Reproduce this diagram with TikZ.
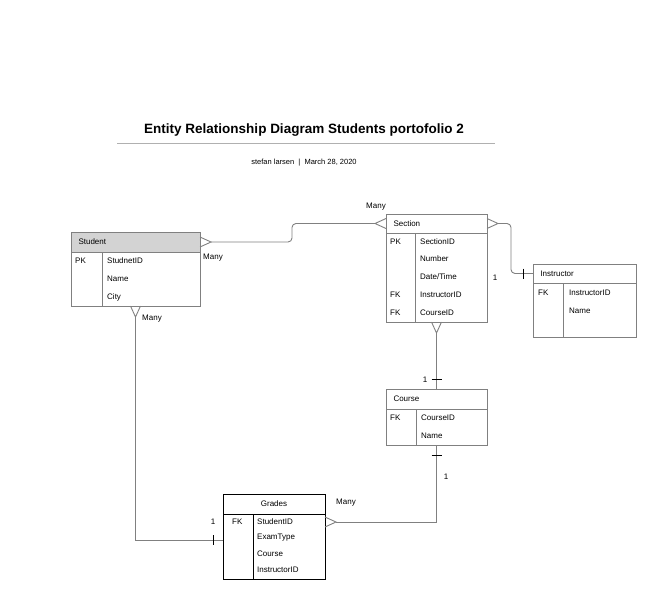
\documentclass[tikz,border=0pt]{standalone}
\usepackage{fontspec}
\setmainfont{Liberation Sans}
\usetikzlibrary{calc,positioning}
\definecolor{linegray}{HTML}{808080}
\definecolor{headgray}{HTML}{D3D3D3}
\definecolor{rulegray}{HTML}{B0B0B0}
\tikzset{%
  font=\fontsize{8}{10}\selectfont,
  tbl/.style={draw=linegray,line width=0.8pt,rectangle,inner sep=0pt,outer sep=0pt,anchor=north west},
  hdr/.style={tbl,inner xsep=7.5pt,align=left},
  field/.style={anchor=west,inner sep=0pt},
  link/.style={draw=linegray,line width=0.9pt},
  foot/.style={draw=linegray,line width=0.9pt},
  tick/.style={draw=black,line width=0.8pt},
  lbl/.style={inner sep=1pt}
}
\begin{document}
\begin{tikzpicture}[x=1pt,y=-1pt]
	\useasboundingbox (0,0) rectangle (656,600);
	% title
	\node[font=\bfseries\fontsize{13.5}{16}\selectfont] (title) at (304,130) {Entity Relationship Diagram Students portofolio 2};
	\draw[rulegray,line width=0.8pt] (117,143) -- (495,143);
	\node[font=\fontsize{7.5}{9}\selectfont] (byline) at (304,163) {stefan larsen\ \ |\ \ March 28, 2020};
	
	% Student
	\node[hdr,fill=headgray,minimum height=20,text width=114pt] (student) at (71,232) {Student};
	\node[tbl,minimum width=129,minimum height=54,below=0pt of student] (studentbody) {};
	\draw[tbl] ([xshift=31pt]studentbody.north west) -- ([xshift=31pt]studentbody.south west);
	\node[field] (spk) at (75,261) {PK};
	\node[field] (sid) at (107,261) {StudnetID};
	\node[field] (sname) at (107,279) {Name};
	\node[field] (scity) at (107,297) {City};
	
	% Section
	\node[hdr,minimum height=19,text width=86pt] (section) at (386,214) {Section};
	\node[tbl,minimum width=101,minimum height=89,below=0pt of section] (sectionbody) {};
	\draw[tbl] ([xshift=29pt]sectionbody.north west) -- ([xshift=29pt]sectionbody.south west);
	\node[field] (xpk) at (390,242) {PK};
	\node[field] (xid) at (420,242) {SectionID};
	\node[field] (xnum) at (420,259) {Number};
	\node[field] (xdate) at (420,277) {Date/Time};
	\node[field] (xfk1) at (390,295) {FK};
	\node[field] (xins) at (420,295) {InstructorID};
	\node[field] (xfk2) at (390,313) {FK};
	\node[field] (xcrs) at (420,313) {CourseID};
	
	% Instructor
	\node[hdr,minimum height=19,text width=88pt] (instructor) at (533,264) {Instructor};
	\node[tbl,minimum width=103,minimum height=54,below=0pt of instructor] (instructorbody) {};
	\draw[tbl] ([xshift=30pt]instructorbody.north west) -- ([xshift=30pt]instructorbody.south west);
	\node[field] (ifk) at (538,293) {FK};
	\node[field] (iid) at (569,293) {InstructorID};
	\node[field] (iname) at (569,311) {Name};
	
	% Course
	\node[hdr,minimum height=20,text width=86pt] (course) at (386,389) {Course};
	\node[tbl,minimum width=101,minimum height=36,below=0pt of course] (coursebody) {};
	\draw[tbl] ([xshift=30pt]coursebody.north west) -- ([xshift=30pt]coursebody.south west);
	\node[field] (cfk) at (390,418) {FK};
	\node[field] (cid) at (421,418) {CourseID};
	\node[field] (cname) at (421,436) {Name};
	
	% Grades
	\node[tbl,draw=black,minimum width=102,minimum height=20] (grades) at (223,494) {Grades};
	\node[tbl,draw=black,minimum width=102,minimum height=65,below=0pt of grades] (gradesbody) {};
	\draw[tbl,draw=black] ([xshift=30pt]gradesbody.north west) -- ([xshift=30pt]gradesbody.south west);
	\node[field] (gfk) at (232,522) {FK};
	\node[field] (gsid) at (257,522) {StudentID};
	\node[field] (gexam) at (257,538) {ExamType};
	\node[field] (gcrs) at (257,554) {Course};
	\node[field] (gins) at (257,570) {InstructorID};
	
	% Student -- Section
	\draw[foot] ([yshift=5pt]student.east) -- ++(11pt,-5pt) -- ([yshift=-5pt]student.east);
	\draw[foot] ([yshift=5pt]section.west) -- ++(-11pt,-5pt) -- ([yshift=-5pt]section.west);
	\draw[link,rounded corners=4pt] ($(student.east)+(11pt,0)$) -- ++(81pt,0) |- ($(section.west)+(-11pt,0)$);
	\node[lbl,anchor=west] (manyA) at (202,258) {Many};
	\node[lbl] (manyB) at (376,207) {Many};
	
	% Section -- Instructor
	\draw[foot] ([yshift=5pt]section.east) -- ++(11pt,-5pt) -- ([yshift=-5pt]section.east);
	\draw[link,rounded corners=4pt] ($(section.east)+(11pt,0)$) -- ++(13pt,0) |- (instructor.west);
	\draw[tick] ($(instructor.west)+(-10pt,5pt)$) -- ++(0,-10pt);
	\node[lbl] (oneA) at (495,278) {1};
	
	% Section -- Course
	\draw[foot] ([xshift=-5pt]sectionbody.south) -- ++(5pt,-11pt) -- ([xshift=5pt]sectionbody.south);
	\draw[link] ($(sectionbody.south)+(0,-11pt)$) -- (course.north);
	\draw[tick] ($(course.north)+(-5pt,10pt)$) -- ++(10pt,0);
	\node[lbl] (oneB) at (425,380) {1};
	
	% Course -- Grades
	\draw[foot] ($(gradesbody.east |- gsid)+(0,5pt)$) -- ++(11pt,-5pt) -- ($(gradesbody.east |- gsid)+(0,-5pt)$);
	\draw[link] (coursebody.south) |- ($(gradesbody.east |- gsid)+(11pt,0)$);
	\draw[tick] ($(coursebody.south)+(-5pt,-10pt)$) -- ++(10pt,0);
	\node[lbl] (oneC) at (446,477) {1};
	\node[lbl] (manyC) at (346,503) {Many};
	
	% Student -- Grades
	\draw[foot] ([xshift=-5pt]studentbody.south) -- ++(5pt,-11pt) -- ([xshift=5pt]studentbody.south);
	\draw[link] ($(studentbody.south)+(0,-11pt)$) |- ($(gradesbody.west |- gexam)+(0,-2pt)$);
	\draw[tick] ($(gradesbody.west |- gexam)+(-10pt,3pt)$) -- ++(0,-10pt);
	\node[lbl] (manyD) at (152,319) {Many};
	\node[lbl] (oneD) at (213,522) {1};
\end{tikzpicture}
\end{document}
